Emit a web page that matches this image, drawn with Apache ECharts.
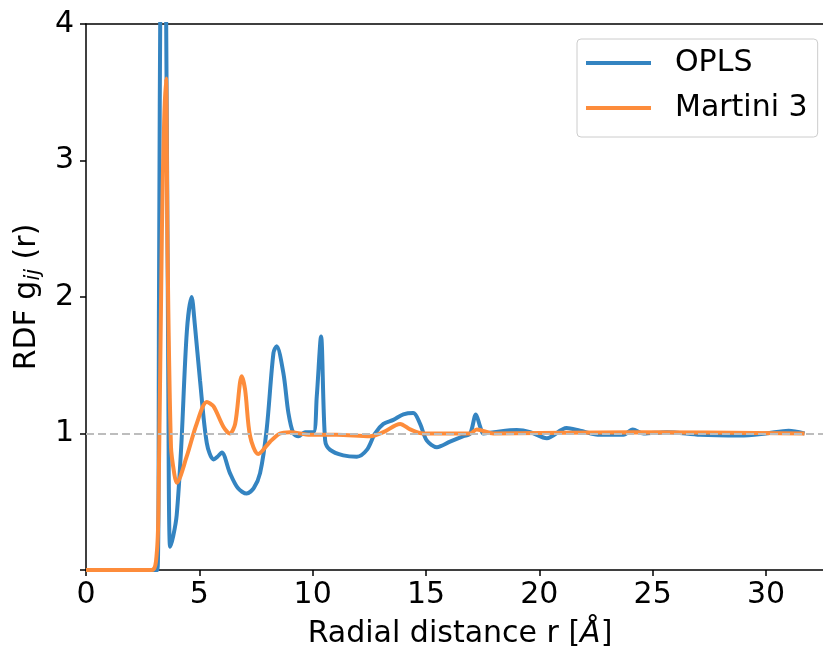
<!DOCTYPE html>
<html>
<head>
<meta charset="utf-8">
<script src="https://cdn.jsdelivr.net/npm/echarts@6/dist/echarts.min.js"></script>
<style>
  html, body { margin: 0; padding: 0; background: #fff; }
  #chart { width: 823px; height: 650px; }
</style>
</head>
<body>
<div id="chart"></div>
<script>
// radial distance r (Å) and g(r)
const oplsR = [0, 3.15, 3.22, 3.3, 3.4, 3.53, 3.63, 3.71, 3.85, 4.0, 4.2, 4.45, 4.66, 4.8, 5.03, 5.33, 5.62, 5.8, 5.99, 6.35, 6.7, 7.09, 7.4, 7.68, 7.97, 8.27, 8.41, 8.71, 8.93, 9.15, 9.37, 9.66, 10.03, 10.18, 10.37, 10.55, 10.77, 11.35, 11.95, 12.39, 12.75, 13.12, 13.56, 14.0, 14.44, 14.74, 15.03, 15.48, 16.06, 16.65, 16.95, 17.2, 17.39, 17.53, 18.0, 19.0, 19.6, 20.33, 21.2, 21.8, 22.68, 23.71, 24.12, 24.6, 25.62, 27.1, 28.86, 30.0, 31.0, 31.7]
const oplsG = [0, 0, 2.0, 4.8, 5.5, 4.2, 1.39, 0.17, 0.25, 0.4, 0.9, 1.75, 2.0, 1.8, 1.39, 0.93, 0.81, 0.83, 0.86, 0.71, 0.6, 0.56, 0.6, 0.71, 1.03, 1.59, 1.64, 1.44, 1.15, 1.0, 0.98, 1.01, 1.01, 1.27, 1.71, 0.95, 0.88, 0.84, 0.83, 0.88, 1.0, 1.07, 1.1, 1.14, 1.15, 1.07, 0.95, 0.9, 0.94, 0.98, 1.0, 1.14, 1.05, 1.0, 1.01, 1.025, 1.01, 0.965, 1.04, 1.02, 0.99, 0.99, 1.03, 1.0, 1.01, 0.99, 0.985, 1.0, 1.02, 1.0]

const martiniR = [0, 2.9, 3.12, 3.2, 3.35, 3.45, 3.53, 3.6, 3.75, 3.9, 4.0, 4.44, 4.88, 5.33, 5.62, 6.06, 6.35, 6.58, 6.87, 7.02, 7.24, 7.6, 8.12, 8.56, 9.0, 9.89, 11.06, 12.53, 13.12, 13.86, 14.3, 14.88, 16.95, 17.24, 17.97, 24.15, 31.7]
const martiniG = [0, 0, 0.12, 0.5, 2.5, 3.3, 3.6, 2.3, 0.9, 0.7, 0.64, 0.83, 1.07, 1.23, 1.2, 1.05, 1.0, 1.07, 1.42, 1.32, 0.98, 0.85, 0.94, 1.0, 1.01, 0.99, 0.99, 0.98, 1.01, 1.07, 1.03, 1.0, 1.0, 1.03, 1.0, 1.01, 1.0]

const seriesNames = ['OPLS', 'Martini 3']
const referenceLevel = 1

const font = 'DejaVu Sans'
const fs = 30
const pairs = (xs, ys) => xs.map((x, i) => [x, ys[i]])

const myChart = echarts.init(document.getElementById('chart'))
myChart.setOption({
  animation: false,
  textStyle: { fontFamily: font },
  grid: { left: 86, top: 24, right: -11, bottom: 80, outerBoundsMode: 'none', containLabel: false },
  legend: {
    orient: 'vertical',
    left: 577,
    top: 39,
    padding: [9, 10, 14, 9],
    itemGap: 15,
    itemWidth: 65,
    itemHeight: 4,
    borderColor: '#cccccc',
    borderWidth: 1,
    borderRadius: 4,
    textStyle: { fontFamily: font, fontSize: fs, color: '#000', lineHeight: 30, padding: [0, 0, 0, 19] },
    data: seriesNames.map(n => ({ name: n, icon: 'rect' })),
  },
  xAxis: [
    {
      type: 'value',
      min: 0,
      max: 33,
      interval: 5,
      name: 'Radial distance r [{i|Å}]',
      nameLocation: 'middle',
      nameGap: 49,
      nameTextStyle: {
        fontFamily: font, fontSize: fs, color: '#000',
        rich: { i: { fontFamily: font, fontSize: fs, fontStyle: 'italic', color: '#000' } },
      },
      splitLine: { show: false },
      axisLine: { onZero: false, lineStyle: { color: '#000', width: 1.5 } },
      axisTick: { length: 6, lineStyle: { color: '#000', width: 1.5 } },
      axisLabel: {
        fontSize: fs, color: '#000', margin: 10,
        showMaxLabel: false,
      },
    },
    {
      type: 'value',
      position: 'top',
      min: 0,
      max: 33,
      splitLine: { show: false },
      axisLine: { show: true, onZero: false, lineStyle: { color: '#000', width: 1.5 } },
      axisTick: { show: false },
      axisLabel: { show: false },
    },
  ],
  yAxis: {
    type: 'value',
    min: 0,
    max: 4,
    interval: 1,
    name: '{a|RDF g}{s|ij}{a| (r)}',
    nameLocation: 'middle',
    nameGap: 40,
    nameRotate: 90,
    nameTextStyle: {
      rich: {
        a: { fontFamily: font, fontSize: fs, color: '#000' },
        s: { fontFamily: font, fontSize: 21, fontStyle: 'italic', color: '#000', padding: [12, 0, 0, 0] },
      },
    },
    splitLine: { show: false },
    axisLine: { show: true, lineStyle: { color: '#000', width: 1.5 } },
    axisTick: { length: 6, lineStyle: { color: '#000', width: 1.5 } },
    axisLabel: {
      fontSize: fs, color: '#000', margin: 12,
      formatter: v => (v === 0 ? '' : String(v)),
    },
  },
  series: [
    {
      name: 'reference',
      type: 'line',
      data: [],
      z: 1,
      silent: true,
      markLine: {
        symbol: 'none',
        silent: true,
        label: { show: false },
        lineStyle: { color: '#bdbdbd', type: [8, 4], width: 2 },
        data: [{ yAxis: referenceLevel }],
      },
    },
    {
      name: seriesNames[0],
      type: 'line',
      data: pairs(oplsR, oplsG),
      showSymbol: false,
      smooth: 0.3,
      color: '#3484c1',
      lineStyle: { width: 4 },
      z: 2,
    },
    {
      name: seriesNames[1],
      type: 'line',
      data: pairs(martiniR, martiniG),
      showSymbol: false,
      smooth: 0.3,
      color: '#fd8c3b',
      lineStyle: { width: 4 },
      z: 3,
    },
  ],
})
</script>
</body>
</html>
